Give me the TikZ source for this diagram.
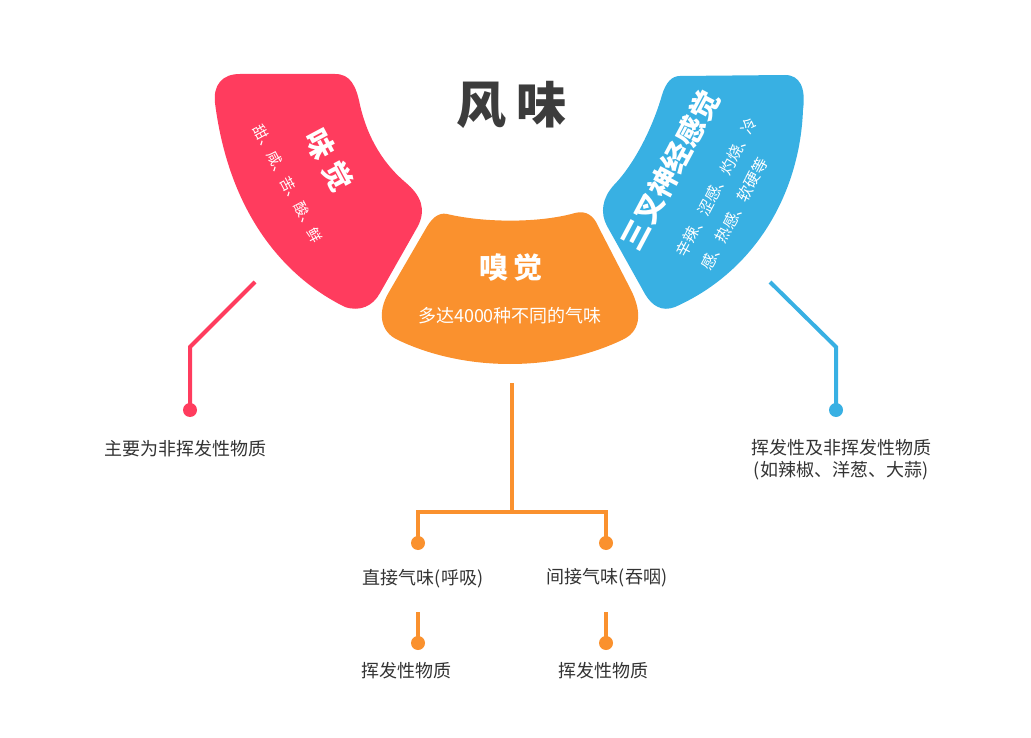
\documentclass[tikz,border=0pt]{standalone}
\usepackage{fontspec}
\newfontfamily\cjk{Noto Sans CJK SC}
\definecolor{tasteRed}{HTML}{FF3C5E}
\definecolor{smellOrange}{HTML}{FA912E}
\definecolor{nerveBlue}{HTML}{38B0E3}
\definecolor{textGray}{HTML}{333333}
\definecolor{titleGray}{HTML}{3C3C3C}
\newcommand{\fsz}[1]{\fontsize{#1}{#1}\selectfont}
\newcommand{\fszl}[2]{\fontsize{#1}{#2}\selectfont}
\tikzset{
  every node/.style={font=\cjk, inner sep=0pt},
  dot/.style={circle, fill=#1, inner sep=0pt, minimum size=14pt},
  link/.style={draw=#1, line width=4pt},
  leaftext/.style={text=textGray, font=\cjk\fsz{18}, align=center},
  fantitle/.style={text=white, font=\cjk\bfseries\fsz{29}},
  fantext/.style={text=white, font=\cjk\fsz{14.5}}
}

\begin{document}
\begin{tikzpicture}[x=1pt,y=-1pt]
    \useasboundingbox (0,0) rectangle (1031,738);

    % Draw the three fan pieces
    \fill[tasteRed] (215,103) .. controls (213,85) and (222,74) .. (240,74) -- (335,74)
        .. controls (350,74) and (356,85) .. (360,105)
        .. controls (368,140) and (385,165) .. (405,182)
        .. controls (422,196) and (426,210) .. (418,226) -- (380,293)
        .. controls (373,306) and (360,312) .. (345,307)
        .. controls (290,280) and (230,220) .. (215,103) -- cycle;
    \fill[smellOrange] (447,214) .. controls (485,223) and (540,223) .. (575,213)
        .. controls (586,210) and (594,216) .. (598,226) -- (631,290)
        .. controls (643,314) and (640,332) .. (622,340)
        .. controls (555,372) and (465,372) .. (398,340)
        .. controls (380,332) and (377,312) .. (389,292) -- (425,230)
        .. controls (431,219) and (438,212) .. (447,214) -- cycle;
    \fill[nerveBlue] (680,76) -- (785,75) .. controls (800,75) and (806,88) .. (803,110)
        .. controls (800,190) and (758,270) .. (675,307)
        .. controls (662,312) and (652,306) .. (645,294) -- (607,226)
        .. controls (600,213) and (602,198) .. (614,185)
        .. controls (638,160) and (655,120) .. (662,95)
        .. controls (666,82) and (672,76) .. (680,76) -- cycle;

    % Title
    \node[text=titleGray, font=\cjk\bfseries\fsz{50}] (flavour) at (511,105) {风\hspace{10pt}味};

    % Texts inside the fan pieces
    \node[fantitle, rotate=-62] (taste) at (329,160) {味\hspace{8pt}觉};
    \node[fantext, rotate=-62] (tasteKinds) at (288,184) {甜、咸、苦、酸、鲜};
    \node[fantitle] (smell) at (511,268) {嗅\hspace{5pt}觉};
    \node[text=white, font=\cjk\fsz{18}] (smellKinds) at (510,316) {多达4000种不同的气味};
    \node[fantitle, rotate=62] (nerve) at (670,170) {三叉神经感觉};
    \node[fantext, rotate=62, align=left, font=\cjk\fszl{15.5}{28}] (nerveKinds) at (729,194)
        {辛辣、涩感、灼烧、冷\\感、热感、软硬等};

    % Left branch
    \coordinate (redStart) at (255,282);
    \coordinate (redBend) at (190,347);
    \node[dot=tasteRed] (redEnd) at (190,410) {};
    \draw[link=tasteRed] (redStart) -- (redBend) -- (redEnd.center);
    \node[leaftext] (nonVolatile) at (185,449) {主要为非挥发性物质};

    % Right branch
    \coordinate (blueStart) at (770,282);
    \coordinate (blueBend) at (836,347);
    \node[dot=nerveBlue] (blueEnd) at (836,410) {};
    \draw[link=nerveBlue] (blueStart) -- (blueBend) -- (blueEnd.center);
    \node[leaftext, font=\cjk\fszl{18}{22}] (bothKinds) at (841,460)
        {挥发性及非挥发性物质\\(如辣椒、洋葱、大蒜)};

    % Middle branch
    \coordinate (orangeStart) at (512,383);
    \coordinate (orangeFork) at (512,512);
    \coordinate (forkLeft) at (418,512);
    \coordinate (forkRight) at (606,512);
    \node[dot=smellOrange] (directDot) at (418,543) {};
    \node[dot=smellOrange] (indirectDot) at (606,543) {};
    \draw[link=smellOrange] (orangeStart) -- (orangeFork);
    \draw[link=smellOrange] (directDot.center) -- (forkLeft) -- (forkRight) -- (indirectDot.center);
    \node[leaftext] (direct) at (423,579) {直接气味(呼吸)};
    \node[leaftext] (indirect) at (607,578) {间接气味(吞咽)};

    \coordinate (directLow) at (418,612);
    \coordinate (indirectLow) at (606,612);
    \node[dot=smellOrange] (directEnd) at (418,643) {};
    \node[dot=smellOrange] (indirectEnd) at (606,643) {};
    \draw[link=smellOrange] (directLow) -- (directEnd.center);
    \draw[link=smellOrange] (indirectLow) -- (indirectEnd.center);
    \node[leaftext] (volatileA) at (406,671) {挥发性物质};
    \node[leaftext] (volatileB) at (603,671) {挥发性物质};
\end{tikzpicture}
\end{document}
